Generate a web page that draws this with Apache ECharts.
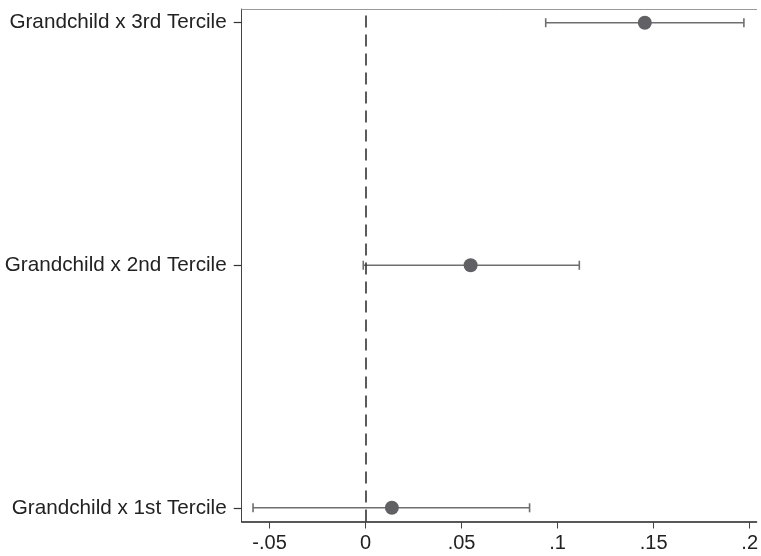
<!DOCTYPE html>
<html><head><meta charset="utf-8">
<script src="https://cdn.jsdelivr.net/npm/echarts@6/dist/echarts.min.js"></script>
<style>html,body{margin:0;padding:0;background:#fff}#c{width:761px;height:556px}</style>
</head><body><div id="c"></div>
<script>
const categories = ["Grandchild x 1st Tercile", "Grandchild x 2nd Tercile", "Grandchild x 3rd Tercile"];
const estimates = [0.0137, 0.0547, 0.1454];
const ciLow = [-0.0586, -0.0012, 0.0938];
const ciHigh = [0.0854, 0.1113, 0.1970];
const xTicks = [-0.05, 0, 0.05, 0.1, 0.15, 0.2];
const xTickLabels = ["-.05", "0", ".05", ".1", ".15", ".2"];

const pos = categories.map((c, i) => i + 1);
const ciData = categories.map((c, i) => [ciLow[i], ciHigh[i], pos[i]]);
const ptData = categories.map((c, i) => [estimates[i], pos[i]]);

const chart = echarts.init(document.getElementById('c'), null, {renderer: 'canvas'});
const FONT = 'Liberation Sans, Arial, sans-serif';
const xMin = -0.0645, xMax = 0.2036;
chart.setOption({
  animation: false,
  backgroundColor: '#fff',
  grid: {left: 241.7, right: 0, top: 9, bottom: 34.5, containLabel: false},
  xAxis: [{
    type: 'value', min: xMin, max: xMax, position: 'bottom',
    axisLine: {show: true, onZero: false, lineStyle: {color: '#222', width: 1.5}},
    axisTick: {show: true, length: 7, customValues: xTicks, lineStyle: {color: '#444', width: 1}},
    axisLabel: {show: true, customValues: xTicks, margin: 12, color: '#222', fontSize: 20, fontFamily: FONT,
      formatter: v => { const i = xTicks.findIndex(t => Math.abs(t - v) < 1e-9); return i >= 0 ? xTickLabels[i] : ''; }},
    splitLine: {show: false}
  }, {
    type: 'value', min: xMin, max: xMax, position: 'top',
    axisLine: {show: true, onZero: false, lineStyle: {color: '#999', width: 1}},
    axisTick: {show: false}, axisLabel: {show: false}, splitLine: {show: false}
  }],
  yAxis: {
    type: 'value', min: 0.9435, max: 3.0565,
    axisLine: {show: true, onZero: false, lineStyle: {color: '#444', width: 1}},
    axisTick: {show: true, length: 8, customValues: pos, lineStyle: {color: '#333', width: 1.2}},
    axisLabel: {show: true, customValues: pos, margin: 15, color: '#222', fontSize: 20.7, fontFamily: FONT,
      formatter: v => categories[Math.round(v) - 1] || ''},
    splitLine: {show: false}
  },
  series: [{
    type: 'custom',
    data: ciData,
    encode: {x: [0, 1], y: 2},
    renderItem: function (params, api) {
      const a = api.coord([api.value(0), api.value(2)]);
      const b = api.coord([api.value(1), api.value(2)]);
      const h = 4.5;
      const st = {stroke: '#6e6e70', lineWidth: 1.6};
      return {type: 'group', children: [
        {type: 'line', shape: {x1: a[0], y1: a[1], x2: b[0], y2: b[1]}, style: st},
        {type: 'line', shape: {x1: a[0], y1: a[1] - h, x2: a[0], y2: a[1] + h}, style: st},
        {type: 'line', shape: {x1: b[0], y1: b[1] - h, x2: b[0], y2: b[1] + h}, style: st}
      ]};
    },
    markLine: {
      silent: true, symbol: 'none', label: {show: false},
      lineStyle: {color: '#333', width: 1.6, type: [12, 7]},
      data: [{xAxis: 0}]
    },
    z: 2
  }, {
    type: 'scatter',
    data: ptData,
    symbol: 'circle', symbolSize: 14,
    itemStyle: {color: '#606065', opacity: 1},
    z: 3
  }]
});
</script></body></html>
